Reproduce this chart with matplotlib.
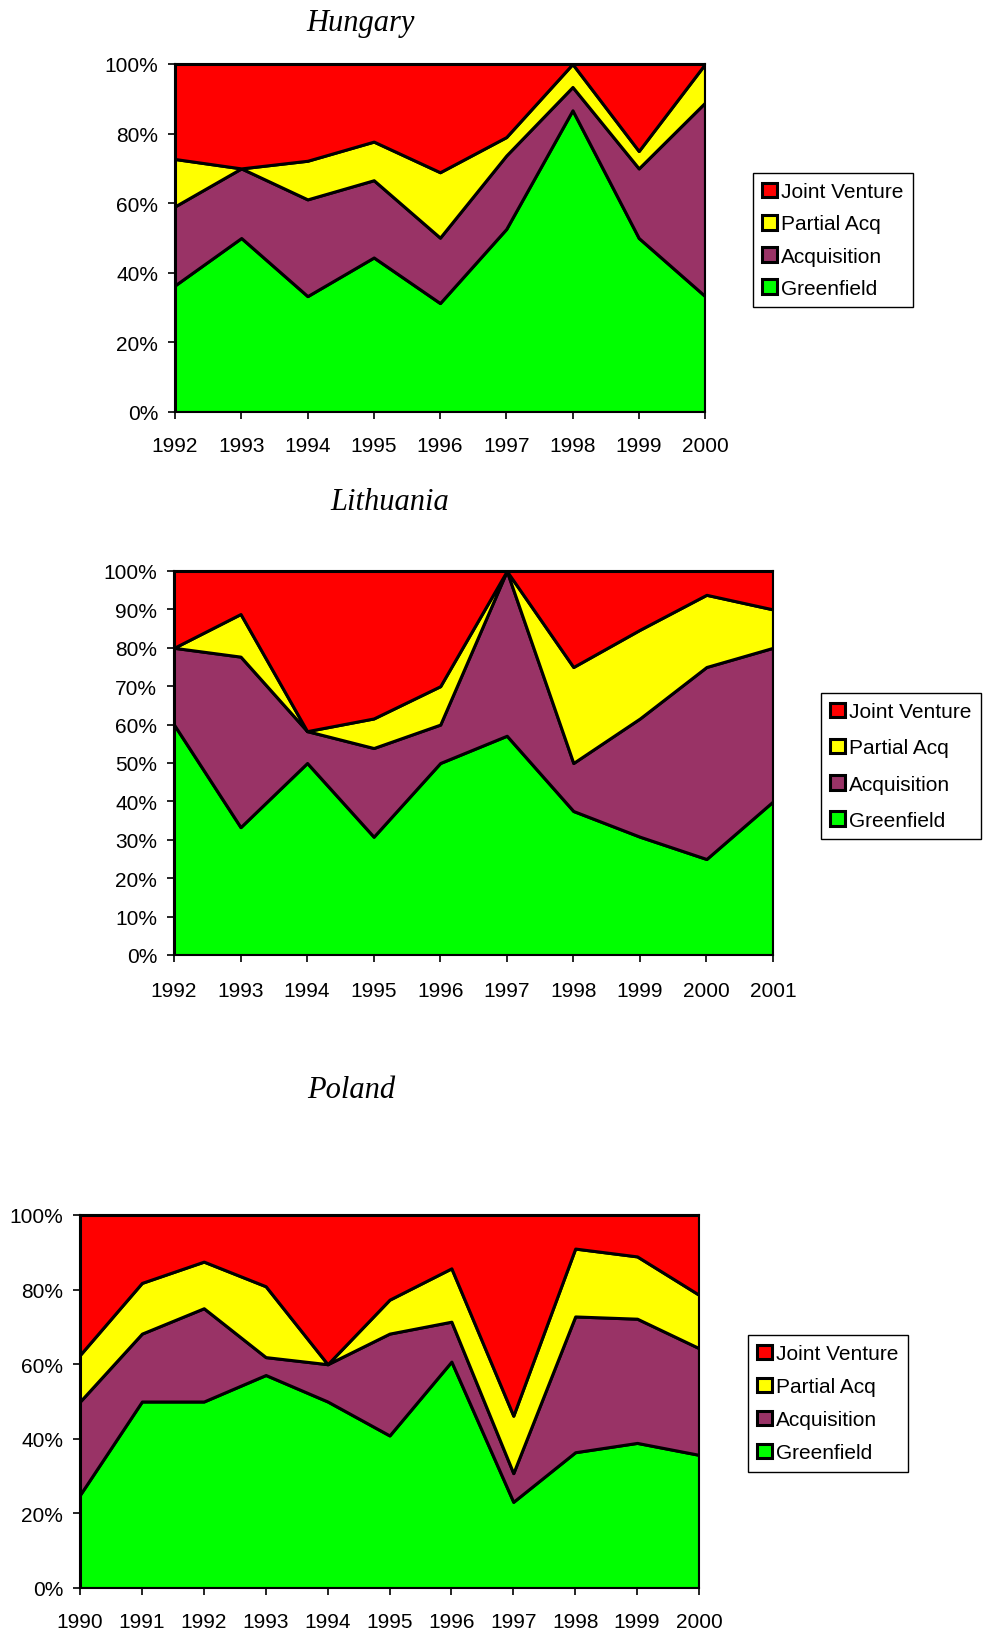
import matplotlib
matplotlib.use("Agg")
import matplotlib.pyplot as plt

W, H = 984, 1633

series_names = ["Greenfield", "Acquisition", "Partial Acq", "Joint Venture"]
colors = ["#00FF00", "#993366", "#FFFF00", "#FF0000"]

hu_years = [1992, 1993, 1994, 1995, 1996, 1997, 1998, 1999, 2000]
hu_greenfield = [36.4, 50.0, 33.3, 44.4, 31.3, 52.6, 86.7, 50.0, 33.3]
hu_acquisition = [22.7, 20.0, 27.8, 22.2, 18.8, 21.1, 6.7, 20.0, 55.6]
hu_partial = [13.6, 0.0, 11.1, 11.1, 18.8, 5.3, 6.6, 5.0, 11.1]
hu_jv = [27.3, 30.0, 27.8, 22.3, 31.1, 21.0, 0.0, 25.0, 0.0]

lt_years = [1992, 1993, 1994, 1995, 1996, 1997, 1998, 1999, 2000, 2001]
lt_greenfield = [60.0, 33.3, 50.0, 30.8, 50.0, 57.1, 37.5, 30.8, 25.0, 40.0]
lt_acquisition = [20.0, 44.4, 8.3, 23.1, 10.0, 42.9, 12.5, 30.8, 50.0, 40.0]
lt_partial = [0.0, 11.1, 0.0, 7.7, 10.0, 0.0, 25.0, 23.1, 18.8, 10.0]
lt_jv = [20.0, 11.2, 41.7, 38.4, 30.0, 0.0, 25.0, 15.3, 6.2, 10.0]

pl_years = [1990, 1991, 1992, 1993, 1994, 1995, 1996, 1997, 1998, 1999, 2000]
pl_greenfield = [25.0, 50.0, 50.0, 57.1, 50.0, 40.9, 60.7, 23.1, 36.4, 38.9, 35.7]
pl_acquisition = [25.0, 18.2, 25.0, 4.8, 10.0, 27.3, 10.7, 7.7, 36.4, 33.3, 28.6]
pl_partial = [12.5, 13.6, 12.5, 19.0, 0.0, 9.1, 14.3, 15.4, 18.2, 16.7, 14.3]
pl_jv = [37.5, 18.2, 12.5, 19.1, 40.0, 22.7, 14.3, 53.8, 9.0, 11.1, 21.4]

charts = [
    dict(title="Hungary", years=hu_years,
         data=[hu_greenfield, hu_acquisition, hu_partial, hu_jv],
         box=(175, 65, 705, 413), ystep=20, title_xy=(361, 24),
         legend_xy=(753, 174), xpad=12.5, lspace=0.63),
    dict(title="Lithuania", years=lt_years,
         data=[lt_greenfield, lt_acquisition, lt_partial, lt_jv],
         box=(174, 572, 773, 956), ystep=10, title_xy=(390, 503),
         legend_xy=(821, 694), xpad=14, lspace=0.82),
    dict(title="Poland", years=pl_years,
         data=[pl_greenfield, pl_acquisition, pl_partial, pl_jv],
         box=(80, 1216, 699, 1589), ystep=20, title_xy=(351, 1091),
         legend_xy=(748, 1336), xpad=12, lspace=0.67),
]

fig = plt.figure(figsize=(W / 100, H / 100), dpi=100)
fig.patch.set_facecolor("white")

tick_font = dict(family="Liberation Sans", size=15)

for c in charts:
    l, t, r, b = c["box"]
    ax = fig.add_axes([l / W, 1 - b / H, (r - l) / W, (b - t) / H])
    polys = ax.stackplot(c["years"], *c["data"], colors=colors,
                         edgecolor="black", linewidth=2.2, labels=series_names)
    ax.set_xlim(c["years"][0], c["years"][-1])
    ax.set_ylim(0, 100)
    ax.set_xticks(c["years"])
    ax.set_xticklabels([str(y) for y in c["years"]], fontdict=tick_font)
    yt = list(range(0, 101, c["ystep"]))
    ax.set_yticks(yt)
    ax.set_yticklabels([f"{v}%" for v in yt], fontdict=tick_font)
    ax.tick_params(axis="both", direction="out", length=5, width=1.2,
                   colors="black")
    ax.tick_params(axis="x", pad=c["xpad"])
    ax.tick_params(axis="y", pad=7)
    for s in ax.spines.values():
        s.set_linewidth(1.5)
        s.set_color("black")
    fig.text(c["title_xy"][0] / W, 1 - c["title_xy"][1] / H, c["title"],
             ha="center", va="center", family="Liberation Serif",
             style="italic", size=22)
    handles = polys[::-1]
    labels = series_names[::-1]
    leg = fig.legend(handles, labels, loc="upper left",
                     bbox_to_anchor=(c["legend_xy"][0] / W,
                                     1 - c["legend_xy"][1] / H),
                     borderaxespad=0, frameon=True, fancybox=False,
                     framealpha=1, edgecolor="black",
                     prop=dict(family="Liberation Sans", size=15),
                     handlelength=0.7, handleheight=0.7, handletextpad=0.2,
                     labelspacing=c["lspace"], borderpad=0.45)
    leg.get_frame().set_linewidth(1.0)

fig.savefig("out.png", dpi=100, facecolor="white")
